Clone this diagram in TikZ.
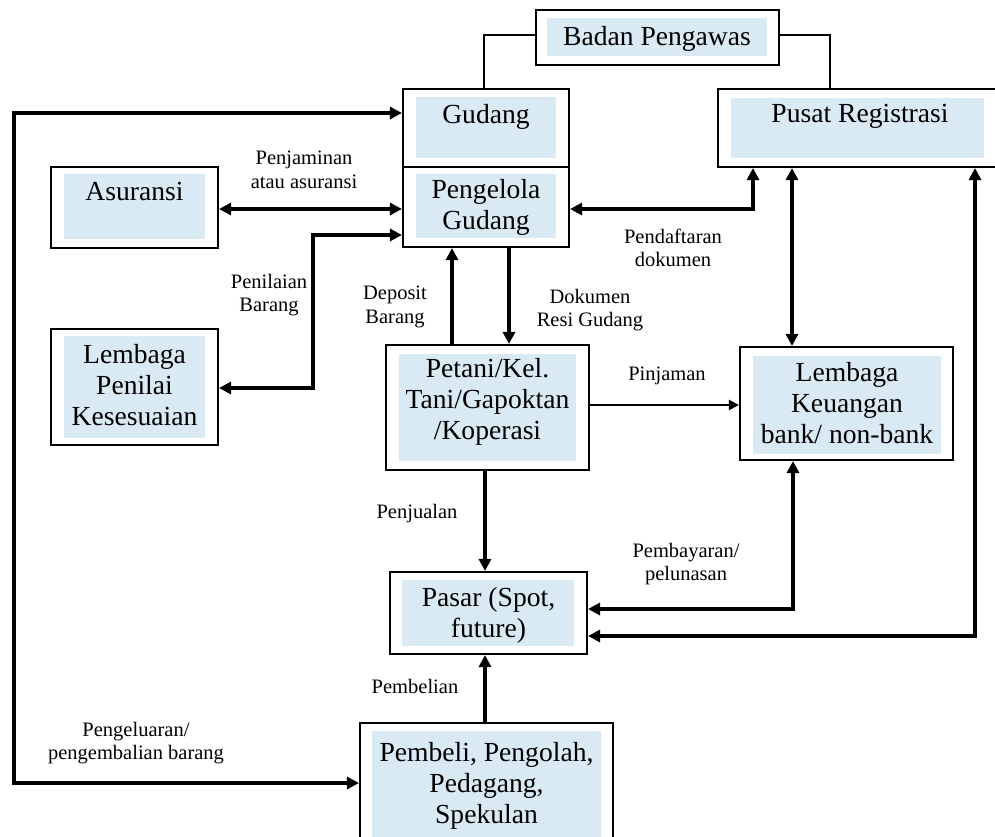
\documentclass[tikz,border=0pt]{standalone}
\usepackage{fontspec}
\setmainfont{Liberation Serif}
\usetikzlibrary{arrows.meta,calc}
\definecolor{fillblue}{RGB}{218,234,244}
\tikzset{
  box/.style={draw=black, line width=2.1pt, fill=white, rectangle, inner sep=0pt},
  boxfill/.style={fill=fillblue},
  btext/.style={font=\fontsize{27.6}{31}\selectfont, align=center, inner sep=0pt, text=black},
  lbl/.style={font=\fontsize{20.5}{23.5}\selectfont, align=center, inner sep=0pt, text=black},
  >={Triangle[length=12pt,width=12pt]},
  conn/.style={line width=3.1pt},
  thinconn/.style={line width=2.1pt, -{Triangle[length=10pt,width=10pt]}},
  link/.style={line width=2.8pt}
}
\begin{document}
\begin{tikzpicture}[x=1pt,y=-1pt]
\useasboundingbox (0,0) rectangle (995,836);
\fill[white] (0,0) rectangle (995,836);
\clip (0,0) rectangle (995,836);

% boxes
\node[box, minimum width=243, minimum height=55] (badan) at (657.5,37.5) {};
\node[box, minimum width=166, minimum height=78] (gud) at (486,128) {};
\node[box, minimum width=166, minimum height=80] (peng) at (486,207) {};
\node[box, minimum width=284, minimum height=78] (pusat) at (860,128) {};
\node[box, minimum width=167, minimum height=81] (asur) at (134.5,207.5) {};
\node[box, minimum width=167, minimum height=116] (lpk) at (134.5,387) {};
\node[box, minimum width=203, minimum height=125] (petani) at (487.5,407.5) {};
\node[box, minimum width=213, minimum height=113] (lk) at (846.5,403.5) {};
\node[box, minimum width=197, minimum height=82] (pasar) at (488.5,613) {};
\node[box, minimum width=253, minimum height=127] (pembeli) at (486.5,786.5) {};

% inner fills
\fill[boxfill] ($(badan.north west)+(12,9)$) rectangle ($(badan.south east)+(-13,-10)$);
\fill[boxfill] ($(gud.north west)+(14,9)$) rectangle ($(gud.south east)+(-14,-10)$);
\fill[boxfill] ($(peng.north west)+(14,8)$) rectangle ($(peng.south east)+(-14,-10)$);
\fill[boxfill] ($(pusat.north west)+(14,10)$) rectangle ($(pusat.south east)+(-19,-10)$);
\fill[boxfill] ($(asur.north west)+(14,8)$) rectangle ($(asur.south east)+(-14,-10)$);
\fill[boxfill] ($(lpk.north west)+(14,8)$) rectangle ($(lpk.south east)+(-14,-8)$);
\fill[boxfill] ($(petani.north west)+(14,10)$) rectangle ($(petani.south east)+(-14,-10)$);
\fill[boxfill] ($(lk.north west)+(14,10)$) rectangle ($(lk.south east)+(-13,-7)$);
\fill[boxfill] ($(pasar.north west)+(13,9)$) rectangle ($(pasar.south east)+(-14,-9)$);
\fill[boxfill] ($(pembeli.north west)+(13,9)$) rectangle ($(pembeli.south east)+(-13,-9)$);

% box texts
\node[btext, anchor=base] (badant) at (657,45) {Badan Pengawas};
\node[btext, anchor=base] (gudt) at (486,123) {Gudang};
\node[btext] (pengt) at (486,207) {Pengelola\\Gudang};
\node[btext, anchor=base] (pusatt) at (860,122) {Pusat Registrasi};
\node[btext, anchor=base] (asurt) at (134.5,200) {Asuransi};
\node[btext] (lpkt) at (134.5,385) {Lembaga\\Penilai\\Kesesuaian};
\node[btext] (petanit) at (487.5,401.5) {Petani/Kel.\\Tani/Gapoktan\\/Koperasi};
\node[btext] (lkt) at (847,403) {Lembaga\\Keuangan\\bank/ non-bank};
\node[btext] (pasart) at (488.5,615) {Pasar (Spot,\\future)};
\node[btext] (pembelit) at (486.5,786) {Pembeli, Pengolah,\\Pedagang,\\Spekulan};

% links to supervisory board
\draw[link] (badan.west |- 0,35) -- (484,35) -- (gud.north -| 484,0);
\draw[link] (badan.east |- 0,35) -- (830,35) -- (pusat.north -| 830,0);

% connectors
\draw[conn,<->] (gud.west |- 0,113) -- (14,113) -- (14,783) -- (pembeli.west |- 0,783);
\draw[conn,<->] (asur.east |- 0,209) -- (peng.west |- 0,209);
\draw[conn,<->] (peng.west |- 0,235) -- (313,235) -- (313,388) -- (lpk.east |- 0,388);
\draw[conn,->] (petani.north -| 452,0) -- (peng.south -| 452,0);
\draw[conn,->] (peng.south -| 509,0) -- (petani.north -| 509,0);
\draw[conn,<->] (peng.east |- 0,209) -- (753,209) -- (pusat.south -| 753,0);
\draw[conn,<->] (pusat.south -| 792,0) -- (lk.north -| 792,0);
\draw[thinconn] (petani.east |- 0,405) -- (lk.west |- 0,405);
\draw[conn,->] (petani.south -| 485,0) -- (pasar.north -| 485,0);
\draw[conn,<->] (lk.south -| 793,0) -- (793,609) -- (pasar.east |- 0,609);
\draw[conn,<->] (pusat.south -| 975,0) -- (975,636) -- (pasar.east |- 0,636);
\draw[conn,->] (pembeli.north -| 485,0) -- (pasar.south -| 485,0);

% labels
\node[lbl] (l1) at (304,170) {Penjaminan\\atau asuransi};
\node[lbl] (l2) at (269,295) {Penilaian\\Barang};
\node[lbl] (l3) at (395,307) {Deposit\\Barang};
\node[lbl] (l4) at (590,310) {Dokumen\\Resi Gudang};
\node[lbl] (l5) at (673,248) {Pendaftaran\\dokumen};
\node[lbl] (l6) at (667,376) {Pinjaman};
\node[lbl] (l7) at (417,514) {Penjualan};
\node[lbl] (l8) at (686,564) {Pembayaran/\\pelunasan};
\node[lbl] (l9) at (415,686) {Pembelian};
\node[lbl] (l10) at (136,743) {Pengeluaran/\\pengembalian barang};
\end{tikzpicture}
\end{document}
